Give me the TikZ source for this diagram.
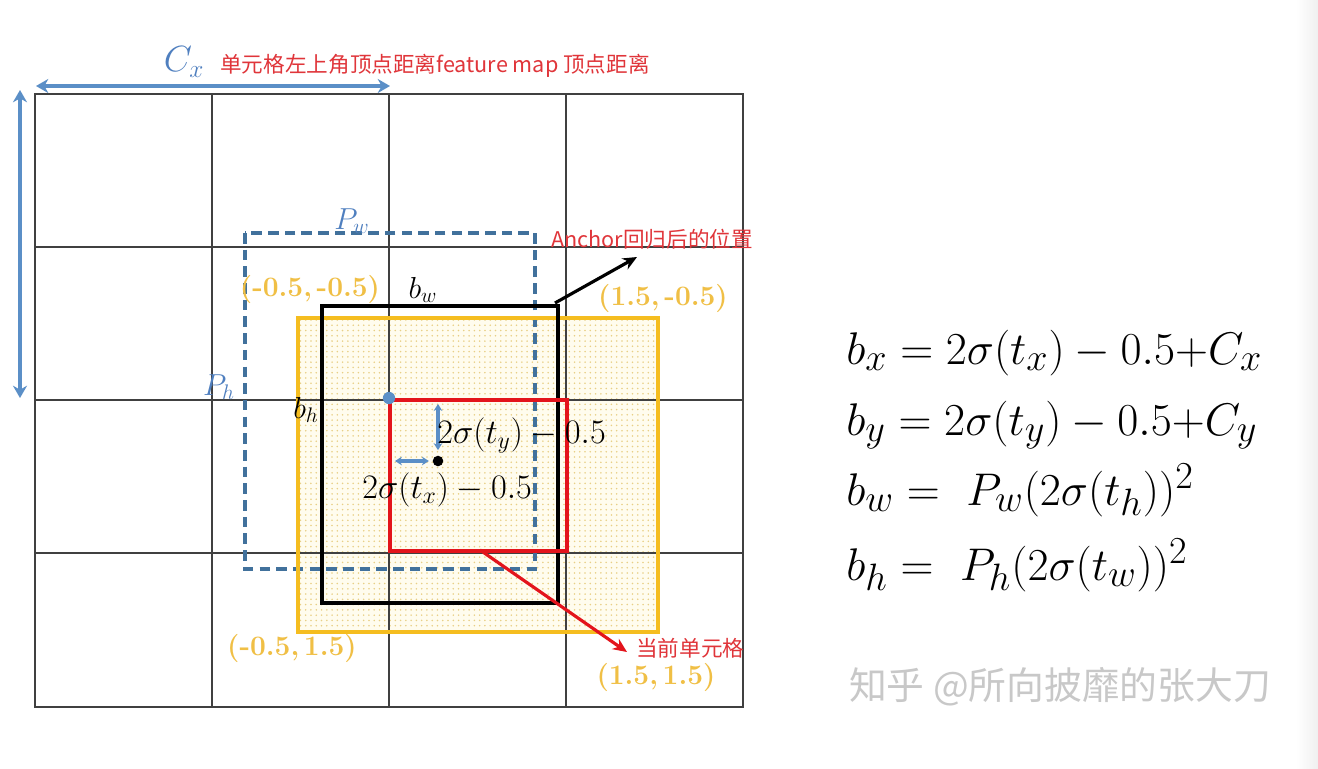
\documentclass[tikz,border=0pt]{standalone}
\usepackage{fontspec}
\usetikzlibrary{arrows.meta,patterns}
\newfontfamily\cjk{Noto Sans CJK SC}
\definecolor{arrblue}{HTML}{5B8FC7}
\definecolor{lblblue}{HTML}{4F7FBF}
\definecolor{dashblue}{HTML}{41719C}
\definecolor{gold}{HTML}{F5BD1F}
\definecolor{goldtxt}{HTML}{F0BF45}
\definecolor{yfill}{HTML}{FFFCEE}
\definecolor{ydot}{HTML}{E8CF86}
\definecolor{boxred}{HTML}{E3141C}
\definecolor{txtred}{HTML}{E0353A}
\definecolor{gridc}{HTML}{404040}
\definecolor{wm}{HTML}{C8C8C8}
\tikzset{
  gridline/.style={draw=gridc, line width=0.7pt},
  bigarrow/.style={draw=arrblue, line width=2.8pt, {Stealth[length=7pt,width=8pt]}-{Stealth[length=7pt,width=8pt]}},
  smallarrow/.style={draw=arrblue, line width=2.4pt, {Stealth[length=4pt,width=5pt]}-{Stealth[length=4pt,width=5pt]}},
  redlbl/.style={text=txtred, font=\cjk\fontsize{12.3}{14}\selectfont, inner sep=0pt},
  goldlbl/.style={text=goldtxt, font=\bfseries\fontsize{16}{18}\selectfont, inner sep=0pt},
  mathlbl/.style={inner sep=0pt, font=\fontsize{17.28}{19}\selectfont},
  innerlbl/.style={inner sep=0pt, font=\fontsize{17.28}{20}\selectfont},
  eqlbl/.style={inner sep=0pt, anchor=base west, font=\fontsize{24.88}{29}\selectfont},
}
\newcommand{\innertxt}[1]{\scalebox{1.13}{#1}}
\newcommand{\eqtxt}[1]{\scalebox{1.047}{#1}}
\begin{document}
\begin{tikzpicture}[x=0.02cm,y=-0.02cm]
\useasboundingbox (0,0) rectangle (1318,768);
\fill[white] (0,0) rectangle (1318,768);
\shade[left color=white, right color=gray!12] (1296,0) rectangle (1318,768);
% yellow dotted fill
\fill[yfill] (298,318) rectangle (658,632);
\fill[pattern=dots, pattern color=ydot] (298,318) rectangle (658,632);
% grid
\draw[gridline] (35,94) rectangle (743,707);
\foreach \gx in {212,389,566} \draw[gridline] (\gx,94) -- (\gx,707);
\foreach \gy in {247,400,553} \draw[gridline] (35,\gy) -- (743,\gy);
% C_x and C_y arrows
\coordinate (cxa) at (36,86);
\coordinate (cxb) at (390,86);
\draw[bigarrow] (cxa) -- (cxb);
\coordinate (cya) at (20,90);
\coordinate (cyb) at (20,398);
\draw[bigarrow] (cya) -- (cyb);
\node[text=lblblue, font=\fontsize{20.74}{22}\selectfont, inner sep=0pt] (cx) at (184,62) {$C_x$};
\node[redlbl, anchor=west] (cxtxt) at (220,66) {单元格左上角顶点距离feature map 顶点距离};
% dashed anchor box
\draw[dashblue, line width=2pt, dash pattern=on 6pt off 3.5pt] (245,233) rectangle (535,569);
\node[mathlbl, text=lblblue] (pw) at (352,221) {$P_w$};
\node[mathlbl, text=lblblue] (ph) at (219,387) {$P_h$};
% yellow box
\draw[gold, line width=2.2pt] (298,318) rectangle (658,632);
% black box
\draw[black, line width=2.4pt] (322,306) rectangle (558,603);
\node[mathlbl] (bw) at (423,290) {$b_w$};
\node[mathlbl] (bh) at (306,410) {$b_h$};
% red box
\draw[boxred, line width=2.2pt] (390,400) rectangle (567,551);
% dots and small arrows
\node[circle, fill=arrblue, inner sep=0pt, minimum size=7pt] (bdot) at (389,398) {};
\node[circle, fill=black, inner sep=0pt, minimum size=6pt] (kdot) at (438,461) {};
\coordinate (vtop) at (438,404);
\draw[smallarrow] (vtop) -- ([yshift=3pt]kdot.north);
\coordinate (hleft) at (395,461);
\draw[smallarrow] (hleft) -- ([xshift=-2pt]kdot.west);
\node[innerlbl, anchor=base west] (ty) at (437,443) {\innertxt{$2\sigma(t_y) - 0.5$}};
\node[innerlbl, anchor=base west] (tx) at (362,498) {\innertxt{$2\sigma(t_x) - 0.5$}};
% anchor arrow
\coordinate (anc) at (555,303);
\coordinate (anctip) at (637,257);
\draw[black, line width=1.8pt, -{Stealth[length=8pt,width=7pt]}] (anc) -- (anctip);
\node[redlbl, anchor=west] (anclbl) at (551,239) {Anchor回归后的位置};
% current cell arrow
\coordinate (cur) at (480,550);
\coordinate (curtip) at (627,652);
\draw[boxred, line width=1.8pt, -{Stealth[length=8pt,width=7pt]}] (cur) -- (curtip);
\node[redlbl, anchor=west] (curlbl) at (636,648) {当前单元格};
% gold coordinate labels
\node[goldlbl] (c1) at (310,289) {(-0.5,\,-0.5)};
\node[goldlbl] (c2) at (663,298) {(1.5,\,-0.5)};
\node[goldlbl] (c3) at (292,648) {(-0.5,\,1.5)};
\node[goldlbl] (c4) at (656,677) {(1.5,\,1.5)};
% equations
\node[eqlbl] (e1) at (846,364) {\eqtxt{$b_x = 2\sigma(t_x) - 0.5{+}C_x$}};
\node[eqlbl] (e2) at (846,435) {\eqtxt{$b_y = 2\sigma\bigl(t_y\bigr) - 0.5{+}C_y$}};
\node[eqlbl] (e3) at (846,505) {\eqtxt{$b_w =\ P_w(2\sigma(t_h))^2$}};
\node[eqlbl] (e4) at (846,580) {\eqtxt{$b_h =\ P_h(2\sigma(t_w))^2$}};
% watermark
\node[text=wm, font=\cjk\fontsize{21.5}{24}\selectfont, inner sep=0pt] (wmk) at (1060,687) {知乎 @所向披靡的张大刀};
\end{tikzpicture}
\end{document}
